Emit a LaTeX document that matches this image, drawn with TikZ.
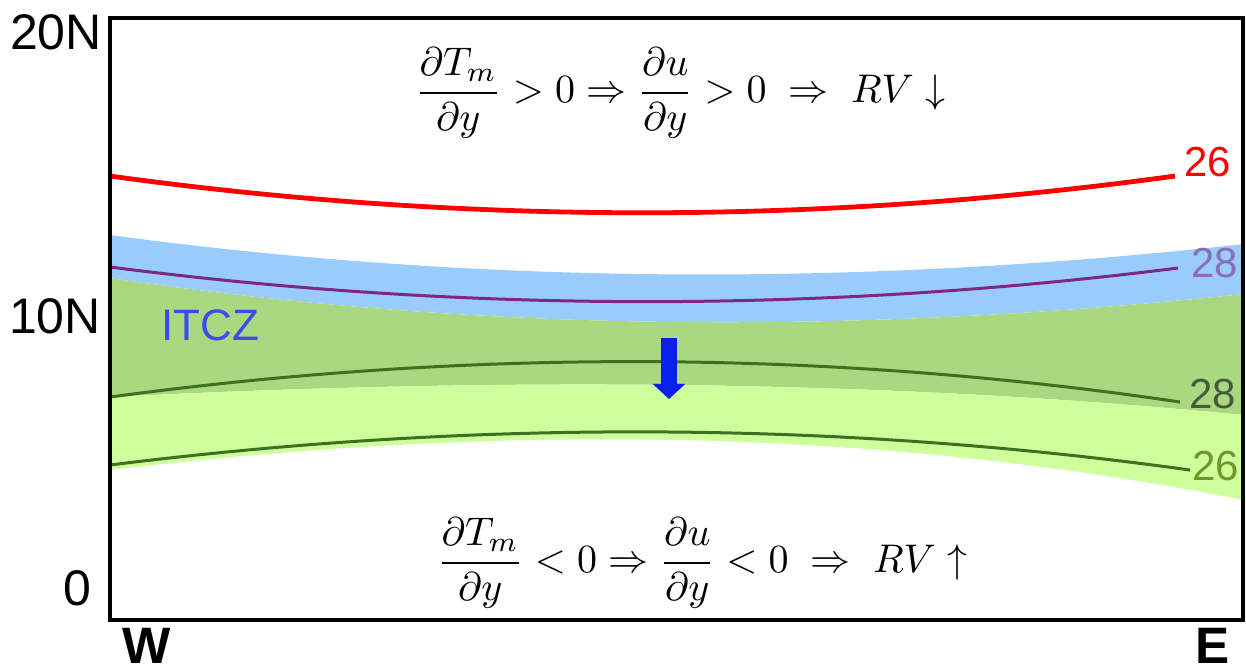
\documentclass[tikz,border=0pt]{standalone}
\usepackage{fontspec}
\usepackage{amsmath}
\usetikzlibrary{arrows.meta}
\newfontfamily\arialfont{Liberation Sans}
\definecolor{itczblue}{RGB}{153,204,250}
\definecolor{bandgreen}{RGB}{170,216,128}
\definecolor{palegreen}{RGB}{206,255,156}
\definecolor{lineviolet}{RGB}{128,40,128}
\definecolor{linegreen}{RGB}{62,112,34}
\definecolor{labviolet}{RGB}{140,110,180}
\definecolor{labgray}{RGB}{72,90,62}
\definecolor{labolive}{RGB}{112,150,40}
\definecolor{shiftblue}{RGB}{10,30,240}
\tikzset{
  axislab/.style={font=\arialfont\fontsize{12.5}{14}\selectfont},
  dirlab/.style={inner sep=0pt, font=\arialfont\bfseries\fontsize{12.8}{15}\selectfont},
  isolab/.style={font=\arialfont\fontsize{10.5}{12}\selectfont},
  eqlab/.style={font=\fontsize{10.4}{13}\selectfont},
  isoline/.style={line width=0.75pt},
  shiftarrow/.style={shiftblue, line width=3.8pt, -{Triangle[width=8pt,length=3.8pt]}}
}

\begin{document}
\begin{tikzpicture}[x=0.25pt,y=-0.25pt]
\useasboundingbox (0,0) rectangle (1246,669);
% shaded bands
\fill[itczblue] (110,235) .. controls (488,286) and (866,286) .. (1244,244)
  -- (1244,294) .. controls (866,334) and (488,334) .. (110,278) -- cycle;
\fill[bandgreen] (110,278) .. controls (488,334) and (866,334) .. (1244,294)
  -- (1244,415) .. controls (866,378) and (488,378) .. (110,397) -- cycle;
\fill[palegreen] (110,397) .. controls (488,378) and (866,378) .. (1244,415)
  -- (1244,500) .. controls (866,425) and (488,425) .. (110,470) -- cycle;
% isotherms
\draw[isoline, red, line width=1.2pt] (110,176) .. controls (465,225) and (820,225) .. (1175,176);
\draw[isoline, lineviolet] (110,267) .. controls (466,313) and (822,313) .. (1178,268);
\draw[isoline, linegreen] (110,397) .. controls (467,349) and (823,349) .. (1180,402);
\draw[isoline, linegreen] (110,465) .. controls (470,420) and (830,420) .. (1190,470);
\node[isolab, red] (t26n) at (1208,162) {26};
\node[isolab, labviolet] (t28n) at (1215,263) {28};
\node[isolab, labgray] (t28s) at (1213,394) {28};
\node[isolab, labolive] (t26s) at (1216,466) {26};
% frame and axes
\draw[line width=1pt] (110,18) rectangle (1243,620);
\node[axislab] (lat20) at (56,32) {20N};
\node[axislab] (lat10) at (55,316) {10N};
\node[axislab] (lat0) at (77,588) {0};
\node[dirlab] (west) at (147,646) {W};
\node[dirlab] (east) at (1213,646) {E};
\node[isolab, shiftblue!80!white, font=\arialfont\fontsize{11}{13}\selectfont] (itcz) at (210,325) {ITCZ};
% southward shift
\coordinate (shifttop) at (669,338);
\coordinate (shiftend) at (669,399);
\draw[shiftarrow] (shifttop) -- (shiftend);
% balances
\node[eqlab] (eqnorth) at (680,93)
  {$\dfrac{\partial T_m}{\partial y} > 0 \Rightarrow \dfrac{\partial u}{\partial y} > 0 \;\Rightarrow\; RV\downarrow$};
\node[eqlab] (eqsouth) at (702,563)
  {$\dfrac{\partial T_m}{\partial y} < 0 \Rightarrow \dfrac{\partial u}{\partial y} < 0 \;\Rightarrow\; RV\uparrow$};
\end{tikzpicture}
\end{document}
